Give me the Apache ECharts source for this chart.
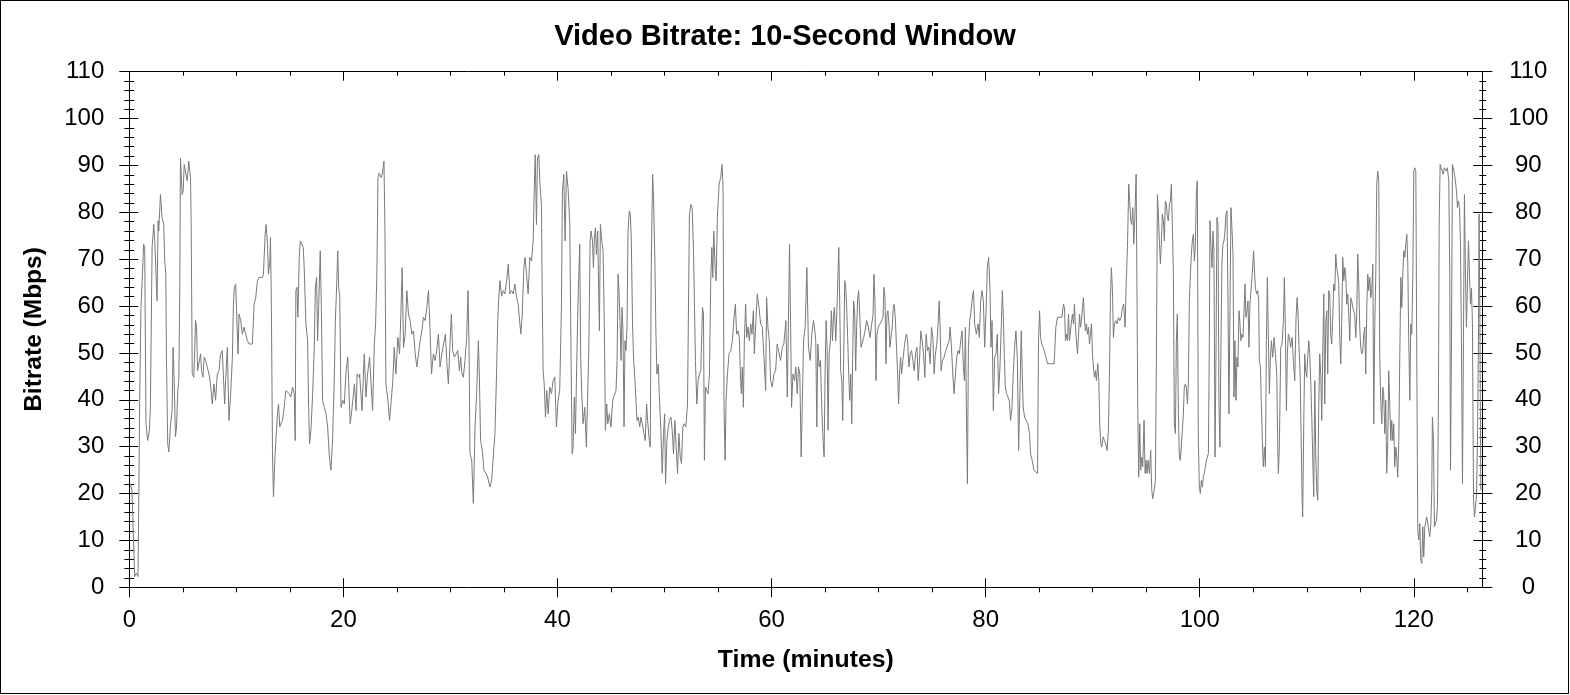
<!DOCTYPE html>
<html>
<head>
<meta charset="utf-8">
<script src="https://cdn.jsdelivr.net/npm/echarts@6/dist/echarts.min.js"></script>
<style>
html,body{margin:0;padding:0;background:#fff;}
#chart{position:absolute;left:0;top:0;width:1570px;height:695px;}
#frame{position:absolute;left:0;top:0;width:1569px;height:694px;box-sizing:border-box;border:1px solid #000;pointer-events:none;}
</style>
</head>
<body>
<div id="chart"></div>
<div id="frame"></div>
<script>
// [minutes, Mbps] pairs, in time segments
const bitrate_00_21 = [[0.09,22.1],[0.25,20.7],[0.5,2.3],[0.66,3.0],[0.81,2.3],[0.88,17.2],[0.97,39.9],[1.09,59.7],[1.19,64.7],[1.34,73.2],[1.44,72.5],[1.5,53.3],[1.56,34.9],[1.72,31.3],[1.88,33.5],[1.97,38.4],[2.13,72.5],[2.28,77.4],[2.38,73.9],[2.59,61.1],[2.69,78.2],[2.75,76],[2.91,83.8],[3.06,78.9],[3.22,77.4],[3.31,69.6],[3.41,66.8],[3.47,49.1],[3.59,30.6],[3.69,28.9],[3.84,34.2],[4.0,37.7],[4.09,51.2],[4.19,44.1],[4.31,32.1],[4.41,34.2],[4.53,42],[4.63,44.1],[4.72,65.4],[4.78,91.6],[4.94,83.8],[5.03,84.5],[5.13,90.2],[5.28,90.2],[5.41,86.7],[5.56,90.9],[5.72,87.4],[5.78,77.4],[5.88,45.5],[6.03,44.8],[6.19,56.9],[6.28,55.5],[6.38,46.2],[6.5,46.2],[6.66,49.8],[6.75,46.2],[6.88,44.8],[7.0,49.1],[7.13,48.4],[7.28,47],[7.44,45.5],[7.59,43.4],[7.75,39.1],[7.91,43.4],[8.06,39.9],[8.22,45.5],[8.38,46.2],[8.53,49.8],[8.69,50.5],[8.78,45.5],[8.91,39.1],[9.0,44.1],[9.16,51.2],[9.31,35.6],[9.47,41.3],[9.63,49.1],[9.72,59.7],[9.81,64],[9.94,64.7],[10.03,58.3],[10.16,49.8],[10.25,58.3],[10.41,56.9],[10.56,54],[10.72,55.5],[10.88,54],[11.03,52.6],[11.19,51.9],[11.34,51.6],[11.5,51.9],[11.66,60.4],[11.81,61.8],[11.97,65.4],[12.13,66.1],[12.28,66.1],[12.44,66.1],[12.53,66.8],[12.69,75.3],[12.78,77.4],[12.91,73.2],[13.0,66.8],[13.13,69.6],[13.19,74.6],[13.28,58.3],[13.38,27.8],[13.47,19.3],[13.59,27.1],[13.69,31.3],[13.84,37],[13.94,39.1],[14.06,34.2],[14.16,34.9],[14.31,35.6],[14.47,38.4],[14.63,42],[14.78,42],[14.94,41.3],[15.09,40.6],[15.25,42.7],[15.41,41.3],[15.5,31.3],[15.56,63.3],[15.66,64],[15.75,57.6],[15.88,70.4],[15.97,73.9],[16.13,73.2],[16.25,72.5],[16.34,68.2],[16.5,56.2],[16.66,52.6],[16.75,38.4],[16.84,30.6],[16.97,33.5],[17.13,41.3],[17.28,51.2],[17.38,64],[17.5,66.1],[17.59,52.6],[17.69,59.7],[17.84,71.8],[17.94,59.7],[18.06,39.9],[18.22,38.4],[18.38,37],[18.53,34.2],[18.69,27.8],[18.84,25],[19.0,32.1],[19.16,45.5],[19.25,56.9],[19.38,64.7],[19.47,71.8],[19.56,64],[19.66,61.8],[19.78,38.4],[19.94,39.9],[20.09,39.1],[20.25,46.2],[20.41,49.1],[20.5,43.4],[20.63,34.9],[20.75,37],[20.88,37],[21.03,43.4],[21.19,37.7],[21.28,45.5],[21.5,44.8]];

const bitrate_21_43 = [[21.52,45.5],[21.74,37.7],[21.95,49.8],[22.11,40.6],[22.26,45.5],[22.45,49.1],[22.57,44.1],[22.73,37.7],[22.89,51.9],[23.01,56.2],[23.13,66.8],[23.23,87.4],[23.35,88.4],[23.51,87.4],[23.63,88.1],[23.79,90.9],[23.88,77.4],[23.97,43.4],[24.16,39.9],[24.31,35.6],[24.47,39.9],[24.62,44.1],[24.75,51.2],[24.9,45.5],[25.09,53.3],[25.25,49.8],[25.37,58.3],[25.49,68.2],[25.62,51.2],[25.77,54],[25.93,63.3],[26.08,58.3],[26.24,56.9],[26.39,54],[26.55,54.7],[26.71,49.8],[26.86,47],[27.02,49.8],[27.17,52.6],[27.33,54.7],[27.48,57.6],[27.64,56.9],[27.79,59.7],[27.95,63.3],[28.1,54.7],[28.23,45.5],[28.41,49.8],[28.57,48.4],[28.72,50.5],[28.88,54],[29.03,47],[29.19,49.8],[29.35,49.8],[29.53,54],[29.69,47],[29.81,43.4],[29.97,52.6],[30.09,58.3],[30.21,50.5],[30.37,49.1],[30.53,49.8],[30.68,50.5],[30.84,46.2],[30.96,49.1],[31.08,45.5],[31.21,44.8],[31.36,48.4],[31.52,53.3],[31.64,63.3],[31.74,51.2],[31.83,28.5],[31.99,27.1],[32.14,17.9],[32.3,34.2],[32.45,41.3],[32.61,52.6],[32.7,45.5],[32.82,31.3],[32.98,29.2],[33.13,25],[33.32,24.3],[33.48,23.5],[33.69,21.4],[33.85,22.8],[34.0,27.8],[34.16,32.8],[34.31,45.5],[34.41,56.2],[34.5,61.1],[34.63,65.4],[34.78,62.1],[34.94,63.3],[35.09,62.6],[35.25,65.4],[35.4,68.9],[35.56,62.6],[35.71,63.3],[35.87,62.6],[36.02,64.7],[36.18,61.8],[36.33,60.4],[36.49,56.2],[36.58,54],[36.71,58.3],[36.86,68.2],[36.98,70.4],[37.11,66.8],[37.26,62.6],[37.42,70.4],[37.58,69.6],[37.73,73.9],[37.82,83.8],[37.92,92.3],[38.04,77.4],[38.13,91.6],[38.26,92.3],[38.35,86.7],[38.51,81],[38.57,63.3],[38.66,46.2],[38.76,43.4],[38.88,36.3],[39.0,42],[39.13,37],[39.28,42.7],[39.44,41.3],[39.59,44.1],[39.75,44.8],[39.9,34.2],[40.06,39.9],[40.21,42],[40.37,59.7],[40.46,84.5],[40.59,88.1],[40.71,73.9],[40.84,88.8],[40.99,85.2],[41.15,77.4],[41.27,49.1],[41.37,28.5],[41.46,29.9],[41.58,40.6],[41.68,32.8],[41.83,51.2],[41.95,63.3],[42.08,73.2],[42.17,49.1],[42.27,41.3],[42.39,34.9],[42.55,38.4],[42.7,29.9]];

const bitrate_43_63 = [[42.83,29.9],[42.92,49.8],[43.05,73.9],[43.14,76],[43.27,73.9],[43.36,68.2],[43.45,74.6],[43.55,76.7],[43.64,71],[43.76,76],[43.86,61.8],[43.92,54.7],[44.01,77.4],[44.14,73.9],[44.26,71.8],[44.38,55.5],[44.48,33.5],[44.6,39.1],[44.7,34.9],[44.85,37],[45.0,34.2],[45.16,39.9],[45.32,39.9],[45.47,42],[45.57,48.4],[45.66,66.8],[45.75,63.3],[45.84,56.9],[45.94,48.4],[46.03,59.7],[46.12,54.7],[46.22,34.2],[46.31,52.6],[46.4,50.5],[46.5,55.5],[46.59,76],[46.71,80.3],[46.81,79.6],[46.9,73.9],[47.02,55.5],[47.12,48.4],[47.24,44.1],[47.33,39.9],[47.43,35.6],[47.55,36.3],[47.68,34.2],[47.8,36.3],[47.92,34.9],[48.08,32.8],[48.2,31.3],[48.33,39.1],[48.42,35.6],[48.58,31.3],[48.67,29.9],[48.76,68.2],[48.89,88.1],[48.98,83.1],[49.1,69.6],[49.2,54],[49.29,45.5],[49.42,47.6],[49.51,41.3],[49.66,33.5],[49.79,24.3],[49.91,32.8],[50.01,37],[50.1,22.1],[50.22,31.3],[50.35,34.2],[50.47,35.6],[50.6,36.3],[50.72,33.5],[50.84,28.5],[50.97,35.6],[51.09,29.9],[51.22,24.3],[51.34,32.8],[51.47,27.8],[51.59,26.4],[51.71,34.2],[51.84,34.9],[51.99,34.2],[52.15,39.1],[52.24,59.7],[52.33,79.6],[52.46,81.7],[52.58,81],[52.71,71.8],[52.8,59.7],[52.89,48.4],[53.02,39.1],[53.14,44.1],[53.27,45.5],[53.39,46.2],[53.55,59.7],[53.64,58.3],[53.73,27.1],[53.83,42.7],[53.95,42],[54.07,41.3],[54.2,45.5],[54.32,65.4],[54.42,72.5],[54.51,66.1],[54.6,76],[54.73,68.2],[54.82,65.4],[54.94,78.9],[55.1,86],[55.25,87.4],[55.38,90.2],[55.47,85.2],[55.56,38.4],[55.66,27.1],[55.75,39.9],[55.88,45.5],[56.03,49.8],[56.19,50.5],[56.34,52.6],[56.5,57.6],[56.62,60.4],[56.74,54],[56.87,54.7],[56.99,53.3],[57.09,45.5],[57.18,41.3],[57.27,47],[57.37,38.4],[57.46,52.6],[57.58,60.4],[57.68,53.3],[57.8,55.5],[57.93,52.6],[58.05,56.2],[58.17,54],[58.3,59],[58.39,49.8],[58.52,56.2],[58.67,62.6],[58.83,59.7],[58.98,56.2],[59.14,55.5],[59.29,49.1],[59.45,42],[59.54,61.8],[59.66,55.5],[59.79,52.6],[59.91,44.1],[60.07,42.7],[60.22,45.5],[60.38,46.2],[60.53,51.9],[60.69,51.9],[60.84,48.4],[61.0,51.2],[61.15,51.9],[61.34,56.9],[61.47,40.6],[61.56,54],[61.68,73.2],[61.78,56.2],[61.87,38.4],[62.0,45.5],[62.15,44.1],[62.27,47],[62.4,41.3],[62.52,47],[62.64,45.5],[62.77,27.8]];

const bitrate_63_85 = [[62.99,52.6],[63.14,55.5],[63.3,68.2],[63.39,68.2],[63.45,51.2],[63.61,48.4],[63.76,54],[63.92,56.9],[64.01,55.5],[64.13,52.6],[64.23,34.2],[64.32,51.9],[64.45,47],[64.57,48.4],[64.69,38.4],[64.82,31.3],[64.91,27.8],[65.0,45.5],[65.1,56.9],[65.19,51.2],[65.28,33.5],[65.38,49.8],[65.5,52.6],[65.59,59],[65.69,52.6],[65.78,57.6],[65.87,59.7],[66.0,52.6],[66.09,58.3],[66.18,64.7],[66.28,72.5],[66.37,60.4],[66.46,46.2],[66.56,44.1],[66.65,35.6],[66.74,49.1],[66.84,65.4],[66.93,64],[67.02,59.7],[67.12,52.6],[67.21,45.5],[67.3,39.9],[67.4,45.5],[67.49,34.9],[67.58,49.1],[67.67,61.1],[67.77,58.3],[67.86,46.2],[67.95,55.5],[68.05,61.8],[68.14,63.3],[68.26,56.9],[68.36,51.2],[68.48,51.2],[68.61,53.3],[68.73,54.7],[68.89,56.9],[69.04,55.5],[69.2,53.3],[69.35,53.3],[69.48,58.3],[69.57,66.8],[69.66,60.9],[69.76,44.1],[69.85,54],[69.97,55.5],[70.13,56.2],[70.28,56.9],[70.41,57.6],[70.5,64],[70.6,61.8],[70.69,47.7],[70.78,58.3],[70.87,59],[70.97,56.2],[71.06,51.2],[71.15,53.3],[71.28,55.5],[71.37,59.7],[71.46,60.4],[71.56,57.6],[71.65,52.6],[71.78,45.5],[71.87,39.1],[71.96,45.5],[72.05,49.1],[72.15,45.5],[72.27,48.4],[72.4,51.2],[72.52,53.3],[72.61,54],[72.71,52.6],[72.83,47],[72.95,49.8],[73.08,50.5],[73.2,48.4],[73.33,46.2],[73.45,49.8],[73.58,51.2],[73.7,44.1],[73.82,48.4],[73.95,54.7],[74.07,52.6],[74.2,49.8],[74.32,44.8],[74.44,54],[74.57,50.5],[74.69,51.2],[74.82,47.7],[74.94,55.5],[75.07,53.3],[75.19,45.5],[75.31,49.8],[75.44,51.9],[75.56,56.2],[75.66,61.1],[75.75,55.5],[75.84,46.2],[75.97,48.4],[76.12,49.1],[76.28,50.5],[76.43,50.5],[76.59,52.6],[76.68,55.5],[76.81,51.2],[76.93,45.5],[77.05,41.3],[77.18,45.5],[77.3,49.1],[77.43,50.5],[77.55,49.8],[77.67,52.6],[77.8,54.7],[77.92,47],[78.02,44.1],[78.11,55.5],[78.2,38.4],[78.3,22.1],[78.39,51.2],[78.51,56.9],[78.61,58.3],[78.73,61.1],[78.86,63.3],[78.98,56.2],[79.13,54],[79.29,56.2],[79.41,53.3],[79.54,61.1],[79.66,63.3],[79.79,61.1],[79.91,51.2],[80.04,59],[80.16,68.2],[80.28,70.4],[80.41,63.3],[80.5,51.2],[80.6,56.9],[80.72,37.7],[80.84,49.1],[80.97,49.8],[81.09,54],[81.21,41.3],[81.34,47],[81.46,55.5],[81.56,63.3],[81.65,58.3],[81.74,49.8],[81.84,42.7],[81.96,41.3],[82.08,41.3],[82.21,39.9],[82.33,35.6],[82.46,38.4],[82.58,45.5],[82.71,51.2],[82.83,54.7],[82.96,49.1],[83.08,29.2],[83.2,41.3],[83.33,54.7],[83.42,45.5],[83.51,38.4],[83.64,36.3],[83.79,35.6],[83.95,34.9],[84.1,32.8],[84.2,28.5],[84.35,27.1],[84.51,25]];

const bitrate_85_105 = [[84.69,25],[84.85,24.3],[84.94,52.6],[85.04,59],[85.13,53.3],[85.25,51.9],[85.47,50.5],[85.63,49.1],[85.78,47.7],[85.94,47.7],[86.09,47.7],[86.4,47.7],[86.56,55.5],[86.71,57.6],[86.93,57.6],[87.12,57.6],[87.27,60.4],[87.37,59.7],[87.46,52.6],[87.55,54],[87.65,52.6],[87.74,58.3],[87.83,52.6],[87.96,55.5],[88.11,58.3],[88.21,56.2],[88.3,60.4],[88.39,55.5],[88.49,55.5],[88.58,49.8],[88.67,53.3],[88.77,58.3],[88.86,55.5],[88.95,56.9],[89.05,59.7],[89.14,61.8],[89.23,56.9],[89.33,54.7],[89.42,56.2],[89.51,54],[89.61,55.5],[89.7,51.9],[89.79,54],[89.89,56.2],[89.98,49.8],[90.07,47],[90.17,44.8],[90.26,46.2],[90.35,44.1],[90.48,47.7],[90.57,44.1],[90.67,34.2],[90.76,30.6],[90.85,29.9],[90.98,32.1],[91.1,31.3],[91.23,30.6],[91.35,29.2],[91.47,33.5],[91.57,45.5],[91.66,61.8],[91.75,68.2],[91.85,63.3],[91.94,53.3],[92.03,56.2],[92.16,56.9],[92.28,56.2],[92.41,57.6],[92.53,56.9],[92.66,57.6],[92.78,59.7],[92.9,60.4],[93.03,55.5],[93.12,64],[93.25,72.5],[93.37,86],[93.46,82.4],[93.56,78.2],[93.65,77.4],[93.75,81],[93.84,73.2],[93.96,80.3],[94.06,88.1],[94.15,59.7],[94.21,38.4],[94.3,23.5],[94.4,34.9],[94.49,25],[94.58,27.8],[94.68,25.7],[94.8,35.6],[94.9,24.3],[94.99,27.1],[95.08,24.3],[95.18,27.1],[95.3,24.3],[95.42,29.2],[95.52,20.7],[95.61,18.9],[95.74,20.7],[95.86,22.8],[95.95,48.4],[96.05,83.8],[96.14,79.6],[96.23,73.9],[96.33,69],[96.42,73.9],[96.51,79.6],[96.61,78.2],[96.7,73.9],[96.79,82.4],[96.89,81.7],[96.98,78.9],[97.07,78.2],[97.17,81.7],[97.26,82.4],[97.35,86],[97.45,76.7],[97.54,66.8],[97.63,34.9],[97.73,32.8],[97.82,52.6],[97.91,58.3],[98.01,37],[98.1,27.8],[98.19,27.1],[98.29,27.1],[98.38,33.5],[98.47,37],[98.56,42.7],[98.66,43.4],[98.75,42.7],[98.85,39.1],[98.94,43.4],[99.03,61.1],[99.13,66.8],[99.22,71.1],[99.31,73.9],[99.41,75.3],[99.5,69.6],[99.59,72.5],[99.69,84.5],[99.78,86.7],[99.87,31.3],[99.97,21.4],[100.06,20],[100.15,22.8],[100.25,21.4],[100.34,23.5],[100.43,24.3],[100.53,25.7],[100.62,27.1],[100.71,27.8],[100.81,28.5],[100.9,52.6],[100.96,78.2],[101.05,72.5],[101.15,68.2],[101.24,76],[101.33,71.8],[101.43,27.8],[101.52,49.1],[101.61,78.9],[101.71,77.4],[101.8,38.4],[101.89,29.9],[101.99,52.6],[102.08,69.6],[102.17,73.2],[102.27,73.9],[102.36,76],[102.45,79.6],[102.55,80.3],[102.64,61.1],[102.73,37],[102.83,59.7],[102.92,81],[103.01,76.7],[103.11,71.1],[103.2,40.6],[103.29,52.6],[103.39,39.9],[103.48,49.1],[103.57,47],[103.67,59],[103.76,56.2],[103.85,52.6],[103.95,54],[104.04,53.3],[104.13,58.3],[104.23,64.7],[104.32,57.6],[104.41,59],[104.51,61.1],[104.6,51.2],[104.69,60.4],[104.79,60.4],[104.91,66.8],[105.03,71.8]];

const bitrate_105_126 = [[105.2,63.8],[105.33,62.6],[105.42,63.3],[105.51,61.1],[105.57,48.4],[105.67,47],[105.76,39.1],[105.85,31.3],[105.95,25.7],[106.04,29.9],[106.14,25.7],[106.23,52.6],[106.32,66.1],[106.42,52.6],[106.51,41.3],[106.6,48.4],[106.7,52.6],[106.82,49.1],[106.95,53.3],[107.07,49.8],[107.2,45.5],[107.29,29.9],[107.35,24.3],[107.44,29.9],[107.57,51.2],[107.69,51.9],[107.82,56.9],[107.91,66.1],[108.0,55.5],[108.1,37.7],[108.19,49.8],[108.28,54],[108.38,53.3],[108.5,51.2],[108.63,53.3],[108.75,48.4],[108.88,44.1],[109.0,57.6],[109.1,61.8],[109.19,58.3],[109.28,51.2],[109.38,45.5],[109.47,32.8],[109.56,20],[109.62,15],[109.72,34.9],[109.81,49.8],[109.9,46.2],[110.0,44.8],[110.09,49.1],[110.19,52.6],[110.28,49.8],[110.37,44.1],[110.47,36.3],[110.56,27.8],[110.65,19.3],[110.75,44.1],[110.84,28.5],[110.93,20.7],[111.03,18.6],[111.12,38.4],[111.21,49.8],[111.31,45.5],[111.4,35.6],[111.49,49.1],[111.59,62.6],[111.68,39.1],[111.78,56.9],[111.87,59],[111.96,45.5],[112.05,63.3],[112.15,62.6],[112.24,54],[112.33,51.9],[112.43,57.6],[112.52,64.7],[112.62,63.3],[112.71,71.1],[112.8,68.2],[112.9,66.8],[112.99,64.7],[113.08,53.3],[113.18,47.7],[113.27,56.9],[113.36,70.4],[113.46,65.4],[113.55,68.2],[113.64,66.8],[113.74,60.4],[113.83,62.6],[113.92,58.3],[114.02,52.6],[114.11,61.8],[114.2,61.1],[114.3,59.7],[114.39,59],[114.48,58.3],[114.58,53.3],[114.67,58.3],[114.76,71.1],[114.86,64.7],[114.95,55.5],[115.04,51.2],[115.14,49.8],[115.23,50.5],[115.33,54],[115.42,55.5],[115.51,45.5],[115.61,59.7],[115.7,66.8],[115.79,63.3],[115.89,66.1],[115.98,61.8],[116.07,63.3],[116.17,68.9],[116.26,34.9],[116.35,55.5],[116.45,66.8],[116.54,86],[116.63,88.8],[116.73,86.7],[116.82,49.1],[116.91,39.9],[117.01,34.9],[117.1,42.7],[117.19,41.3],[117.29,32.8],[117.38,39.9],[117.47,24.3],[117.57,31.3],[117.66,46.2],[117.76,38.4],[117.85,31.3],[117.94,35.6],[118.04,31.3],[118.13,34.9],[118.22,25.7],[118.32,29.9],[118.41,27.8],[118.5,23.5],[118.6,31.3],[118.69,49.1],[118.79,66.1],[118.88,59.7],[118.97,66.8],[119.07,71.8],[119.16,70.4],[119.25,73.2],[119.35,75.3],[119.44,68.9],[119.53,52.6],[119.63,39.9],[119.72,56.2],[119.81,54],[119.91,66.8],[120.0,88.8],[120.09,89.5],[120.19,88.8],[120.28,49.1],[120.37,12.2],[120.47,10.1],[120.56,13.6],[120.65,5.8],[120.75,5.1],[120.84,12.9],[120.93,6.5],[121.03,12.9],[121.12,12.9],[121.21,15],[121.31,13.6],[121.4,12.2],[121.49,10.8],[121.59,13.6],[121.68,20.7],[121.74,36.3],[121.84,31.3],[121.93,12.9],[122.02,13.6],[122.12,14.3],[122.21,17.2],[122.3,38.4],[122.37,77.4],[122.46,90.2],[122.55,89.5],[122.65,88.8],[122.74,88.1],[122.86,89.5],[123.02,88.8],[123.14,89.5],[123.27,86.7],[123.36,66.8],[123.43,25],[123.52,52.6],[123.61,90.2],[123.7,90.2],[123.8,88.1],[123.89,86.7],[123.99,84.5],[124.08,81],[124.17,82.4],[124.27,81],[124.36,73.9],[124.45,52.6],[124.55,22.1],[124.64,52.6],[124.73,83.8],[124.83,66.8],[124.92,55.5],[125.02,65.4],[125.11,73.9],[125.2,66.8],[125.3,60.4],[125.39,63.8],[125.48,56.2],[125.58,18.6],[125.67,15],[125.77,17.2],[125.86,20],[125.95,31.3],[126.04,52.6],[126.1,79.6],[126.17,59.7],[126.26,20.7]];

const xMajorTicks = [0, 20, 40, 60, 80, 100, 120];
const xMinorTicks = [5, 10, 15, 25, 30, 35, 45, 50, 55, 65, 70, 75, 85, 90, 95, 105, 110, 115, 125];
const xMax = 126.4;
const yMin = 0, yMax = 110, yStep = 10;
const titleText = 'Video Bitrate: 10-Second Window';
const xName = 'Time (minutes)';
const yName = 'Bitrate (Mbps)';

const bitrateSeries = [].concat(bitrate_00_21, bitrate_21_43, bitrate_43_63, bitrate_63_85, bitrate_85_105, bitrate_105_126);

const FONT = '"Liberation Sans", Arial, sans-serif';
const BLACK = '#000000';
const tickStyle = { color: BLACK, width: 1 };
const lineOn = { show: true, onZero: false, lineStyle: { color: BLACK, width: 1 } };
const lineOff = { show: false, onZero: false };

const xBase = { type: 'value', min: 0, max: xMax, interval: 20, splitLine: { show: false },
  axisLabel: { show: false }, axisLine: lineOff, minorTick: { show: false } };
const yBase = { type: 'value', min: yMin, max: yMax, interval: yStep, splitLine: { show: false },
  axisLabel: { show: false }, axisLine: lineOff };

const option = {
  animation: false,
  backgroundColor: '#ffffff',
  title: {
    text: titleText, left: 'center', top: 17,
    textStyle: { fontSize: 29, fontWeight: 'bold', color: BLACK, fontFamily: FONT }
  },
  grid: { left: 129.3, right: 87.7, top: 71.7, bottom: 107.7, containLabel: false, outerBoundsMode: 'none' },
  xAxis: [
    Object.assign({}, xBase, {
      position: 'bottom',
      axisLine: lineOn,
      axisTick: { show: true, inside: false, length: 10, customValues: xMajorTicks, lineStyle: tickStyle },
      axisLabel: { show: true, customValues: xMajorTicks, margin: 21, fontSize: 24, color: BLACK, fontFamily: FONT },
      name: xName, nameLocation: 'middle', nameGap: 60,
      nameTextStyle: { fontSize: 24.8, fontWeight: 'bold', color: BLACK, fontFamily: FONT }
    }),
    Object.assign({}, xBase, { position: 'bottom',
      axisTick: { show: true, inside: true, length: 9, customValues: xMajorTicks, lineStyle: tickStyle } }),
    Object.assign({}, xBase, { position: 'bottom',
      axisTick: { show: true, inside: false, length: 5, customValues: xMinorTicks, lineStyle: tickStyle } }),
    Object.assign({}, xBase, { position: 'top',
      axisLine: lineOn,
      axisTick: { show: true, inside: true, length: 9, customValues: xMajorTicks, lineStyle: tickStyle } }),
    Object.assign({}, xBase, { position: 'top',
      axisTick: { show: true, inside: true, length: 4, customValues: xMinorTicks, lineStyle: tickStyle } })
  ],
  yAxis: [
    Object.assign({}, yBase, {
      position: 'left',
      axisLine: lineOn,
      axisTick: { show: true, inside: false, length: 10, lineStyle: tickStyle },
      minorTick: { show: true, splitNumber: 5, length: 5, lineStyle: tickStyle },
      axisLabel: { show: true, margin: 25, fontSize: 24, color: BLACK, fontFamily: FONT },
      name: yName, nameLocation: 'middle', nameGap: 83,
      nameTextStyle: { fontSize: 24.5, fontWeight: 'bold', color: BLACK, fontFamily: FONT }
    }),
    Object.assign({}, yBase, { position: 'left',
      axisTick: { show: true, inside: true, length: 9, lineStyle: tickStyle },
      minorTick: { show: true, splitNumber: 5, length: 5, lineStyle: tickStyle } }),
    Object.assign({}, yBase, {
      position: 'right',
      axisLine: lineOn,
      axisTick: { show: true, inside: false, length: 10, lineStyle: tickStyle },
      minorTick: { show: true, splitNumber: 5, length: 4, lineStyle: tickStyle },
      axisLabel: { show: true, align: 'center', margin: 46, fontSize: 24, color: BLACK, fontFamily: FONT }
    }),
    Object.assign({}, yBase, { position: 'right',
      axisTick: { show: true, inside: true, length: 9, lineStyle: tickStyle },
      minorTick: { show: true, splitNumber: 5, length: 3, lineStyle: tickStyle } })
  ],
  series: [{
    type: 'line',
    xAxisIndex: 0, yAxisIndex: 0,
    data: bitrateSeries,
    showSymbol: false, symbol: 'none',
    lineStyle: { color: '#7a7a7a', width: 1 },
    silent: true,
    clip: true
  }]
};

const chart = echarts.init(document.getElementById('chart'), null, { renderer: 'canvas' });
chart.setOption(option);
</script>
</body>
</html>
